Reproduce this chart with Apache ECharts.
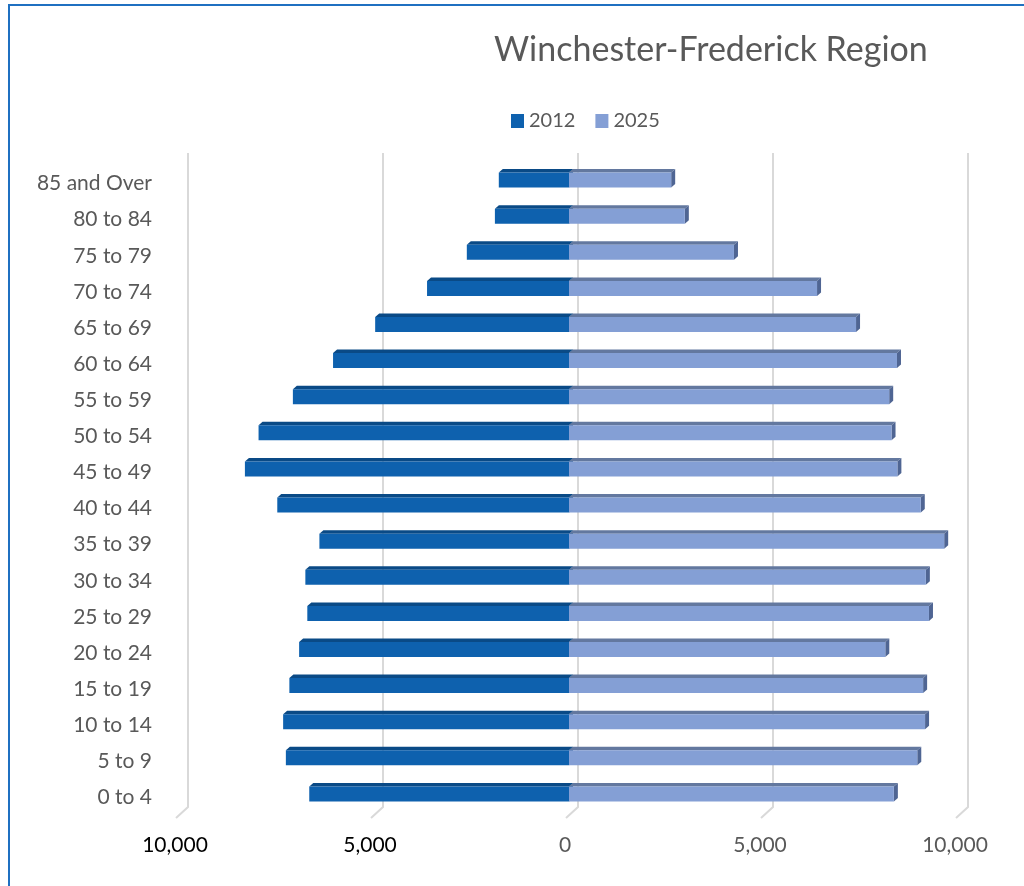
<!DOCTYPE html>
<html>
<head>
<meta charset="utf-8">
<title>Winchester-Frederick Region</title>
<script src="https://cdn.jsdelivr.net/npm/echarts@6/dist/echarts.min.js"></script>
<style>
  html, body { margin: 0; padding: 0; background: #fff; }
  #wrap { position: relative; width: 1024px; height: 886px; overflow: hidden; }
  /* blue page frame, only top and left edges are visible */
  #frame { position: absolute; left: 8px; top: 4px; width: 1100px; height: 1000px;
           border-top: 2px solid #1f70c1; border-left: 2px solid #1f70c1; }
  #chart { position: absolute; left: 0; top: 0; width: 1024px; height: 886px; }
</style>
</head>
<body>
<div id="wrap">
  <div id="frame"></div>
  <div id="chart"></div>
</div>
<script>
// age groups, bottom to top
var categories = ['0 to 4', '5 to 9', '10 to 14', '15 to 19', '20 to 24', '25 to 29',
  '30 to 34', '35 to 39', '40 to 44', '45 to 49', '50 to 54', '55 to 59',
  '60 to 64', '65 to 69', '70 to 74', '75 to 79', '80 to 84', '85 and Over'];
var pop2012 = [6660, 7260, 7330, 7170, 6920, 6710, 6760, 6400, 7480, 8310, 7960, 7080,
  6050, 4970, 3640, 2620, 1900, 1800];
var pop2025 = [8330, 8930, 9130, 9080, 8110, 9230, 9150, 9620, 9020, 8420, 8270, 8210,
  8410, 7360, 6360, 4230, 2970, 2620];
var xTicks = [-10000, -5000, 0, 5000, 10000];

var FONT = 'Lato, "Noto Sans", sans-serif';

// 3d-ish bar: front face + top face + end cap
function barRenderer(front, top, cap) {
  return function (params, api) {
    var v = api.value(0), c = api.value(1);
    var p0 = api.coord([0, c]);
    var p1 = api.coord([v, c]);
    var h = 15, dx = 4, dy = 3.5;
    var y0 = p0[1] - h / 2 + 1;
    var xl = Math.min(p0[0], p1[0]), xr = Math.max(p0[0], p1[0]);
    return {
      type: 'group',
      children: [
        { type: 'polygon', shape: { points: [[xl, y0], [xl + dx, y0 - dy], [xr + dx, y0 - dy], [xr, y0]] },
          style: { fill: top } },
        { type: 'polygon', shape: { points: [[xr, y0], [xr + dx, y0 - dy], [xr + dx, y0 + h - dy], [xr, y0 + h]] },
          style: { fill: cap } },
        { type: 'rect', shape: { x: xl, y: y0, width: xr - xl, height: h },
          style: { fill: front } }
      ]
    };
  };
}

var chart = echarts.init(document.getElementById('chart'));
var option = {
  backgroundColor: 'transparent',
  animation: false,
  textStyle: { fontFamily: FONT },
  title: {
    text: 'Winchester-Frederick Region',
    left: 489,
    top: 28,
    textStyle: { fontSize: 34, fontWeight: 'normal', color: '#595959', fontFamily: FONT }
  },
  legend: {
    left: 506,
    top: 106,
    icon: 'rect',
    itemWidth: 13,
    itemHeight: 14,
    itemGap: 20,
    textStyle: { fontSize: 20, color: '#595959', fontFamily: FONT },
    data: ['2012', '2025']
  },
  grid: { left: 179, right: 65, top: 161, bottom: 75 },
  xAxis: {
    type: 'value',
    min: -10000,
    max: 10000,
    interval: 5000,
    axisLine: { show: false },
    axisTick: { show: false },
    splitLine: { show: false },
    axisLabel: {
      margin: 24,
      fontSize: 21,
      fontFamily: FONT,
      padding: [0, 8, 0, 0],
      color: function (v) { return Number(v) < 0 ? '#000000' : '#595959'; },
      formatter: function (v) { return Math.abs(v).toLocaleString('en-US'); }
    }
  },
  yAxis: {
    type: 'category',
    data: categories,
    axisLine: { show: false },
    axisTick: { show: false },
    axisLabel: { margin: 27, fontSize: 21, color: '#595959', fontFamily: FONT,
                 verticalAlign: 'top', lineHeight: 9 }
  },
  series: [
    {
      // back-wall gridlines with the slanted floor edge
      type: 'custom',
      silent: true,
      z: 1,
      data: xTicks.map(function (v) { return [v, 0]; }),
      encode: { x: 0, y: 1 },
      renderItem: function (params, api) {
        var cs = params.coordSys;
        var x = api.coord([api.value(0), 0])[0];
        var b = cs.y + cs.height;
        return {
          type: 'polyline',
          shape: { points: [[x + 9, cs.y - 8], [x + 9, b - 4], [x - 3, b + 7]] },
          style: { stroke: '#d9d9d9', lineWidth: 2, fill: null }
        };
      }
    },
    {
      name: '2012',
      type: 'custom',
      z: 2,
      itemStyle: { color: '#0e61ae' },
      data: pop2012.map(function (v, i) { return [-v, i]; }),
      encode: { x: 0, y: 1 },
      renderItem: barRenderer('#0e61ae', '#0a4a86', '#0a4a86')
    },
    {
      name: '2025',
      type: 'custom',
      z: 3,
      itemStyle: { color: '#849fd5' },
      data: pop2025.map(function (v, i) { return [v, i]; }),
      encode: { x: 0, y: 1 },
      renderItem: barRenderer('#849fd5', '#63789f', '#4f6593')
    }
  ]
};
chart.setOption(option);
</script>
</body>
</html>
